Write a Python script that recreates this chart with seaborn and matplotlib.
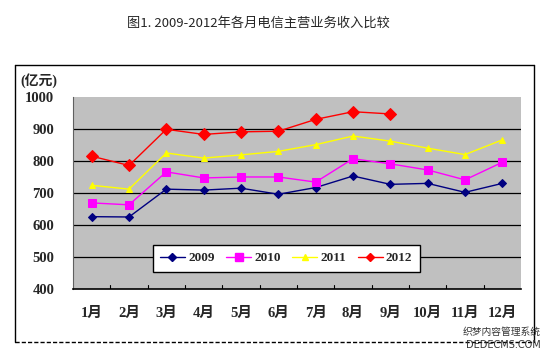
import matplotlib
matplotlib.use("Agg")
import matplotlib.pyplot as plt
import seaborn as sns
import pandas as pd
import numpy as np
from matplotlib.lines import Line2D

months = ["1月", "2月", "3月", "4月", "5月", "6月", "7月", "8月", "9月", "10月", "11月", "12月"]
y2009 = [627, 626, 713, 710, 716, 697, 718, 754, 728, 731, 703, 731]
y2010 = [670, 664, 767, 748, 751, 751, 735, 808, 792, 773, 742, 797]
y2011 = [725, 713, 826, 810, 820, 831, 852, 879, 863, 841, 821, 867]
y2012 = [816, 787, 900, 884, 892, 894, 931, 955, 948]
years = ["2009", "2010", "2011", "2012"]
yticks = [400, 500, 600, 700, 800, 900, 1000]

sns.set_theme(style="white")
cjk = ["Liberation Serif", "Noto Sans CJK SC", "DejaVu Sans"]
plt.rcParams["font.family"] = cjk

series = [y2009, y2010, y2011, y2012]
colors = ["#000080", "#FF00FF", "#FFFF00", "#FF0000"]
markers = ["D", "s", "^", "D"]
msizes = [4, 5.5, 4.5, 6.5]
leg_ms = [4, 5.5, 4, 4.5]

fig = plt.figure(figsize=(5.52, 3.54), dpi=100)
ax = fig.add_axes([73 / 552, 1 - 289.3 / 354, 448 / 552, 192 / 354])
ax.set_facecolor("#c0c0c0")

handles = []
for yr, vals, c, m, ms, lms in zip(years, series, colors, markers, msizes, leg_ms):
    df = pd.DataFrame({"x": np.arange(len(vals)), "v": vals})
    sns.lineplot(data=df, x="x", y="v", ax=ax, color=c, marker=m, markersize=ms,
                 markeredgecolor=c, linewidth=1.0, legend=False)
    handles.append(Line2D([0], [0], color=c, marker=m, markersize=lms,
                          markeredgecolor=c, linewidth=1.0, label=yr))

ax.set_xlim(-0.5, 11.5)
ax.set_ylim(400, 1000)
ax.set_yticks(yticks)
ax.set_yticklabels([str(t) for t in yticks], fontweight="bold", fontsize=10.5)
ax.set_xticks(np.arange(12))
ax.set_xticklabels(months, fontweight="bold", fontsize=10.5)
ax.tick_params(axis="x", length=0, pad=13)
ax.tick_params(axis="y", length=0, pad=13.5)
for b in np.arange(0.5, 11.5, 1.0):
    ax.plot([b, b], [400, 412], color="black", lw=0.8, zorder=1)
for g in [500, 600, 700, 800, 900]:
    ax.axhline(g, color="black", lw=0.9, zorder=0.5)
ax.set_xlabel("")
ax.set_ylabel("")
ax.grid(False)
for s in ["top", "right"]:
    ax.spines[s].set_visible(False)
ax.spines["left"].set_color("#606060")
ax.spines["left"].set_linewidth(0.8)
ax.spines["bottom"].set_color("black")
ax.spines["bottom"].set_linewidth(1.2)

leg = fig.legend(handles=handles, loc="lower left",
                 bbox_to_anchor=(152.7 / 552, 1 - 271.7 / 354, 267 / 552, 32.4 / 354),
                 mode="expand", ncol=4, frameon=True, fancybox=False,
                 prop={"weight": "bold", "size": 9.5, "family": cjk},
                 handlelength=1.9, handletextpad=0.25, columnspacing=0.5,
                 borderaxespad=0, borderpad=0.55)
leg.get_frame().set_edgecolor("black")
leg.get_frame().set_linewidth(1.0)
leg.get_frame().set_facecolor("white")
leg.get_frame().set_alpha(1)

fig.text(258 / 552, 1 - 23 / 354, "图1. 2009-2012年各月电信主营业务收入比较",
         ha="center", va="center", fontsize=9.5, family=["Noto Sans CJK SC", "DejaVu Sans"])
fig.text(20 / 552, 1 - 81 / 354, "(亿元)", ha="left", va="center", fontsize=10,
         fontweight="bold", family=cjk)

# outer frame
X0, X1, Y0, Y1 = 15 / 552, 534 / 552, 1 - 65 / 354, 1 - 342 / 354
fig.add_artist(Line2D([X0, X1], [Y0, Y0], color="black", lw=1.0, transform=fig.transFigure))
fig.add_artist(Line2D([X0, X0], [Y0, Y1], color="black", lw=1.0, transform=fig.transFigure))
fig.add_artist(Line2D([X1, X1], [Y0, Y1], color="black", lw=1.0, transform=fig.transFigure))
fig.add_artist(Line2D([X0, X1], [Y1, Y1], color="black", lw=1.0, ls=(0, (3, 1.5)),
                      transform=fig.transFigure))

# watermark
fig.text(541 / 552, 1 - 332 / 354, "织梦内容管理系统", ha="right", va="center", fontsize=7,
         color="#333333", family=["Noto Sans CJK SC", "DejaVu Sans"])
fig.text(541 / 552, 1 - 345 / 354, "DEDECMS.COM", ha="right", va="center", fontsize=7,
         color="#333333", family=["DejaVu Sans"])

fig.savefig("out.png", dpi=100)
